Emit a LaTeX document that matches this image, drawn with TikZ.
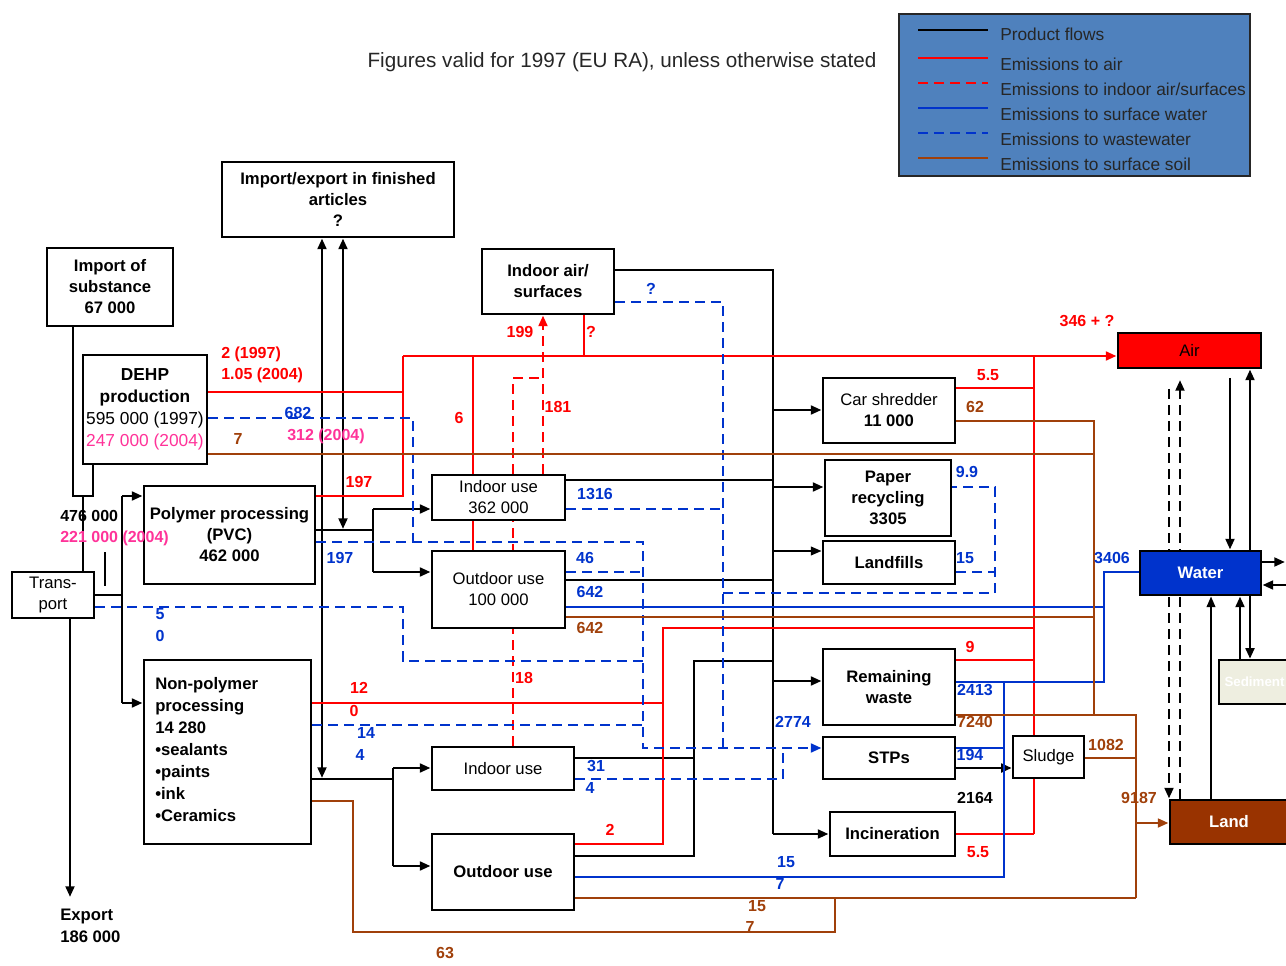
\documentclass[tikz,border=0pt]{standalone}
\usepackage{fontspec}
\setmainfont{Liberation Sans}
\usetikzlibrary{arrows.meta}
\pgfdeclarelayer{bg}
\pgfsetlayers{bg,main}
\definecolor{cred}{RGB}{255,0,0}
\definecolor{cblue}{RGB}{0,51,204}
\definecolor{cbrown}{RGB}{160,64,10}
\definecolor{cpink}{RGB}{255,51,153}
\definecolor{legfill}{RGB}{79,129,189}
\definecolor{watfill}{RGB}{0,51,204}
\definecolor{landfill}{RGB}{153,51,0}
\definecolor{sedfill}{RGB}{238,238,224}
\begin{document}
\begin{tikzpicture}[x=0.75pt,y=-0.75pt,
  >={Triangle[length=8pt,width=6.5pt]},
  box/.style={draw, line width=2.2pt, fill=white, inner sep=1pt, align=center, font=\fontsize{12.5}{15.75}\selectfont\bfseries},
  boxr/.style={box, font=\fontsize{12.5}{15.75}\selectfont},
  prod/.style={line width=2.2pt, black},
  thinprod/.style={line width=1.3pt, black},
  eair/.style={line width=2.2pt, cred},
  eindoor/.style={eair, dash pattern=on 7.5pt off 4.5pt},
  ewater/.style={line width=1.9pt, cblue},
  ewaste/.style={line width=2.2pt, cblue, dash pattern=on 7.5pt off 4.5pt},
  esoil/.style={line width=1.9pt, cbrown},
  lab/.style={font=\fontsize{12}{13}\selectfont\bfseries, inner sep=0pt},
  lr/.style={lab, text=cred},
  lb/.style={lab, text=cblue},
  lbr/.style={lab, text=cbrown},
  lp/.style={lab, text=cpink},
  lk/.style={lab, text=black},
  legtxt/.style={anchor=west, inner sep=0pt, font=\fontsize{13}{15}\selectfont, text=black!85}
]
\useasboundingbox (0,0) rectangle (1286,966);

% ---------- boxes ----------
\node[box, minimum width=174pt, minimum height=56.25pt] (ie) at (338,199.5) {Import/export in finished\\articles\\?};
\node[box, minimum width=94.5pt, minimum height=58.5pt] (imp) at (110,287) {Import of\\substance\\67 000};
\node[boxr, minimum width=93pt, minimum height=81.75pt, font=\fontsize{13}{16.5}\selectfont] (dehp) at (145,409.5) {\textbf{DEHP}\\\textbf{production}\\595 000 (1997)\\\textcolor{cpink}{247 000 (2004)}};
\node[boxr, minimum width=61.5pt, minimum height=34.5pt, line width=2pt] (trans) at (53,595) {Trans-\\port};
\node[box, minimum width=128.25pt, minimum height=73.5pt] (poly) at (229.5,535) {Polymer processing\\(PVC)\\462 000};
\node[box, minimum width=125.25pt, minimum height=138pt] (nonp) at (227.5,752) {};
\node[lab, anchor=north west, align=left, font=\fontsize{12.5}{16.5}\selectfont\bfseries] (nonptext) at (155,677) {Non-polymer\\processing\\14 280\\•sealants\\•paints\\•ink\\•Ceramics};
\node[box, minimum width=99pt, minimum height=48.75pt] (iair) at (548,281.5) {Indoor air/\\surfaces};
\node[boxr, minimum width=99.75pt, minimum height=33.75pt] (iuse) at (498.5,497.5) {Indoor use\\362 000};
\node[boxr, minimum width=99.75pt, minimum height=57.75pt] (ouse) at (498.5,589.5) {Outdoor use\\100 000};
\node[boxr, minimum width=106.5pt, minimum height=32.25pt] (iuse2) at (503,768.5) {Indoor use};
\node[box, minimum width=106.5pt, minimum height=57pt] (ouse2) at (503,872) {Outdoor use};
\node[boxr, minimum width=99pt, minimum height=48.75pt] (car) at (889,410.5) {Car shredder\\\textbf{11 000}};
\node[box, minimum width=94.5pt, minimum height=57pt] (paper) at (888,498) {Paper\\recycling\\3305};
\node[box, minimum width=99pt, minimum height=32.25pt] (landf) at (889,562.5) {Landfills};
\node[box, minimum width=99pt, minimum height=57pt] (rem) at (889,687) {Remaining\\waste};
\node[box, minimum width=99pt, minimum height=31.5pt] (stp) at (889,758) {STPs};
\node[box, minimum width=93.75pt, minimum height=33pt] (inc) at (892.5,834) {Incineration};
\node[boxr, minimum width=53.25pt, minimum height=31.5pt, line width=1.8pt] (sludge) at (1048.5,757) {Sludge};
\node[boxr, fill=red, minimum width=107.25pt, minimum height=26.25pt] (air) at (1189.5,350.5) {Air};
\node[box, fill=watfill, text=white, minimum width=90.75pt, minimum height=33pt] (water) at (1200.5,573) {Water};
\node[box, fill=sedfill, text=white, minimum width=53.25pt, minimum height=33pt, line width=1.8pt, font=\fontsize{10}{12}\selectfont\bfseries] (sed) at (1254.5,682) {Sediment};
\node[box, fill=landfill, text=white, minimum width=88.5pt, minimum height=33pt] (land) at (1229,822) {Land};

% ---------- title, legend, export ----------
\node[font=\fontsize{15.5}{18}\selectfont, text=black!85] (title) at (622,62) {Figures valid for 1997 (EU RA), unless otherwise stated};
\node[draw=black!85, line width=1.5pt, fill=legfill, minimum width=263.25pt, minimum height=121.5pt, inner sep=0pt] (leg) at (1074.5,95) {};
\draw[prod] (918,30) -- (988,30);
\draw[eair] (918,58) -- (988,58);
\draw[eindoor] (918,83) -- (988,83);
\draw[ewater, line width=2.2pt] (918,108) -- (988,108);
\draw[ewaste] (918,133) -- (988,133);
\draw[esoil] (918,158) -- (988,158);
\node[legtxt] (lg1) at (1000,34) {Product flows};
\node[legtxt] (lg2) at (1000,64) {Emissions to air};
\node[legtxt] (lg3) at (1000,89) {Emissions to indoor air/surfaces};
\node[legtxt] (lg4) at (1000,114) {Emissions to surface water};
\node[legtxt] (lg5) at (1000,139) {Emissions to wastewater};
\node[legtxt] (lg6) at (1000,164) {Emissions to surface soil};
\node[lab, anchor=north west, align=left, font=\fontsize{12.5}{16.5}\selectfont\bfseries] (export) at (60,909) {Export\\186 000};

% ---------- connectors ----------
\begin{pgfonlayer}{bg}
% product flows
\draw[prod] (imp.south -| 73,0) -- (73,496) -- (93,496) -- (dehp.south -| 93,0);
\draw[prod] (83,496) -- (trans.north -| 83,0);
\draw[prod] (trans.east |- 0,595) -- (122,595);
\draw[prod] (122,496) -- (122,703);
\draw[prod,->] (122,496) -- (poly.west |- 0,496);
\draw[prod,->] (122,703) -- (nonp.west |- 0,703);
\draw[thinprod] (105,552) -- (105,586);
\draw[prod,->] (trans.south -| 70,0) -- (70,897);
\draw[prod,<->] (ie.south -| 322,0) -- (322,778);
\draw[prod,<->] (ie.south -| 343,0) -- (343,529);
\draw[prod] (poly.east |- 0,530) -- (373,530);
\draw[prod] (373,509) -- (373,572);
\draw[prod,->] (373,509) -- (iuse.west |- 0,509);
\draw[prod,->] (373,572) -- (ouse.west |- 0,572);
\draw[prod] (nonp.east |- 0,779) -- (393,779);
\draw[prod] (393,768) -- (393,866);
\draw[prod,->] (393,768) -- (iuse2.west |- 0,768);
\draw[prod,->] (393,866) -- (ouse2.west |- 0,866);
\draw[prod] (iair.east |- 0,270) -- (773,270) -- (773,834);
\draw[prod] (iuse.east |- 0,480) -- (773,480);
\draw[thinprod] (ouse.east |- 0,580) -- (773,580);
\draw[prod] (iuse2.east |- 0,758) -- (694,758);
\draw[prod] (ouse2.east |- 0,856) -- (694,856) -- (694,661) -- (773,661);
\draw[prod,->] (773,410) -- (car.west |- 0,410);
\draw[prod,->] (773,487) -- (paper.west |- 0,487);
\draw[thinprod,->] (773,551) -- (landf.west |- 0,551);
\draw[prod,->] (773,681) -- (rem.west |- 0,681);
\draw[prod,->] (773,834) -- (inc.west |- 0,834);
\draw[prod,->] (stp.east |- 0,768) -- (sludge.west |- 0,768);
% compartments
\draw[prod,->] (1230,378) -- (water.north -| 1230,0);
\draw[prod,->] (water.north -| 1250,0) -- (air.south -| 1250,0);
\draw[prod,->] (water.east |- 0,562) -- (1285,562);
\draw[prod,->] (1292,585) -- (water.east |- 0,585);
\draw[prod,->] (sed.north -| 1240,0) -- (water.south -| 1240,0);
\draw[prod,->] (water.south -| 1250,0) -- (sed.north -| 1250,0);
\draw[thinprod,->] (land.north -| 1211,0) -- (water.south -| 1211,0);
\draw[prod, dash pattern=on 7.5pt off 4.5pt,->] (land.north -| 1180,0) -- (1180,380);
\draw[prod, dash pattern=on 7.5pt off 4.5pt,->] (1169,389) -- (land.north -| 1169,0);
% emissions to air
\draw[eair] (dehp.east |- 0,392) -- (403,392);
\draw[eair] (poly.east |- 0,496) -- (403,496) -- (403,356);
\draw[eair,->] (403,356) -- (air.west |- 0,356);
\draw[eair] (iuse.north -| 473,0) -- (473,356);
\draw[eair] (ouse.north -| 473,0) -- (iuse.south -| 473,0);
\draw[eair] (iair.south -| 584,0) -- (584,356);
\draw[eair] (nonp.east |- 0,703) -- (663,703);
\draw[eair] (ouse2.east |- 0,844) -- (663,844) -- (663,628) -- (1034,628);
\draw[eair] (1034,356) -- (1034,834);
\draw[eair] (car.east |- 0,388) -- (1034,388);
\draw[eair] (rem.east |- 0,660) -- (1034,660);
\draw[eair] (inc.east |- 0,834) -- (1034,834);
% emissions to indoor air
\draw[eindoor,->] (iuse.north -| 543,0) -- (iair.south -| 543,0);
\draw[eindoor] (iuse2.north -| 513,0) -- (513,378) -- (543,378);
% emissions to surface water
\draw[ewater] (ouse.east |- 0,607) -- (1104,607);
\draw[ewater] (rem.east |- 0,682) -- (1104,682) -- (1104,572) -- (water.west |- 0,572);
\draw[ewater] (ouse2.east |- 0,877) -- (1004,877) -- (1004,682);
\draw[ewater] (stp.east |- 0,748) -- (1004,748);
% emissions to wastewater
\draw[ewaste] (dehp.east |- 0,418) -- (413,418) -- (413,542);
\draw[ewaste,->] (poly.east |- 0,542) -- (643,542) -- (643,748) -- (stp.west |- 0,748);
\draw[ewaste] (ouse.east |- 0,572) -- (643,572);
\draw[ewaste] (trans.east |- 0,607) -- (403,607) -- (403,661) -- (643,661);
\draw[ewaste] (nonp.east |- 0,725) -- (643,725);
\draw[ewaste] (iuse2.east |- 0,779) -- (783,779) -- (783,748);
\draw[ewaste] (iair.east |- 0,302) -- (723,302) -- (723,748);
\draw[ewaste] (iuse.east |- 0,509) -- (723,509);
\draw[ewaste] (723,593) -- (995,593) -- (995,487) -- (paper.east |- 0,487);
\draw[ewaste] (landf.east |- 0,572) -- (995,572);
% emissions to soil
\draw[esoil] (dehp.east |- 0,454) -- (1094,454);
\draw[esoil] (car.east |- 0,421) -- (1094,421) -- (1094,715);
\draw[esoil] (ouse.east |- 0,617) -- (1094,617);
\draw[esoil] (rem.east |- 0,715) -- (1136,715) -- (1136,898);
\draw[esoil] (sludge.east |- 0,758) -- (1136,758);
\draw[esoil,->] (1136,823) -- (land.west |- 0,823);
\draw[esoil] (ouse2.east |- 0,898) -- (1136,898);
\draw[esoil] (nonp.east |- 0,801) -- (353,801) -- (353,932) -- (835,932) -- (835,898);
\end{pgfonlayer}

% ---------- labels ----------
\node[lr, anchor=west] (l2a) at (221,354) {2 (1997)};
\node[lr, anchor=west] (l2b) at (221,375) {1.05 (2004)};
\node[lb] (l682) at (298,413) {682};
\node[lp, anchor=west] (l312) at (287,436) {312 (2004)};
\node[lbr] (l7a) at (238,439) {7};
\node[lr] (l197r) at (359,482) {197};
\node[lr] (l6) at (459,418) {6};
\node[lr] (l199) at (520,332) {199};
\node[lr] (lq1) at (591,332) {?};
\node[lr] (l181) at (558,407) {181};
\node[lb] (l1316) at (595,494) {1316};
\node[lb] (l197b) at (340,558) {197};
\node[lb] (l46) at (585,558) {46};
\node[lb] (l642b) at (590,592) {642};
\node[lbr] (l642s) at (590,628) {642};
\node[lb] (lq2) at (651,289) {?};
\node[lb] (l5) at (160,614) {5};
\node[lb] (l0b) at (160,636) {0};
\node[lk, anchor=west] (l476) at (60,516) {476 000};
\node[lp, anchor=west] (l221) at (60,538) {221 000 (2004)};
\node[lr] (l12) at (359,688) {12};
\node[lr] (l0r) at (354,711) {0};
\node[lr] (l18) at (524,678) {18};
\node[lb] (l14) at (366,733) {14};
\node[lb] (l4a) at (360,755) {4};
\node[lb] (l31) at (596,766) {31};
\node[lb] (l4b) at (590,788) {4};
\node[lr] (l2) at (610,830) {2};
\node[lb] (l2774) at (793,722) {2774};
\node[lb] (l15w) at (786,862) {15};
\node[lb] (l7w) at (780,884) {7};
\node[lbr] (l15s) at (757,906) {15};
\node[lbr] (l7s) at (750,927) {7};
\node[lbr] (l63) at (445,953) {63};
\node[lr] (l55a) at (988,375) {5.5};
\node[lbr] (l62) at (975,407) {62};
\node[lb] (l99) at (967,472) {9.9};
\node[lb] (l15l) at (965,558) {15};
\node[lr] (l9) at (970,647) {9};
\node[lb] (l2413) at (975,690) {2413};
\node[lbr] (l7240) at (975,722) {7240};
\node[lb] (l194) at (970,755) {194};
\node[lk] (l2164) at (975,798) {2164};
\node[lr] (l55b) at (978,852) {5.5};
\node[lbr] (l1082) at (1106,745) {1082};
\node[lbr] (l9187) at (1139,798) {9187};
\node[lb] (l3406) at (1112,558) {3406};
\node[lr] (l346) at (1087,321) {346 + ?};
\end{tikzpicture}
\end{document}
